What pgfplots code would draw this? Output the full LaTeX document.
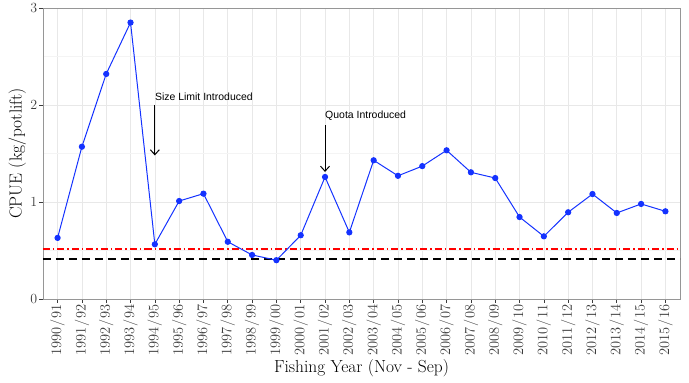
\documentclass[border=0pt]{standalone}
\usepackage{fontspec}
\newfontfamily\annfont{Liberation Sans}
\usepackage{pgfplots}
\pgfplotsset{compat=1.18}
\usetikzlibrary{arrows.meta}
\definecolor{lineblue}{RGB}{20,50,255}
\definecolor{gridc}{RGB}{232,232,232}
\definecolor{gridm}{RGB}{244,244,244}
\definecolor{framec}{RGB}{150,150,150}
\definecolor{tickc}{RGB}{60,60,60}
\newcommand{\fy}[2]{#1\kern0.8bp/\kern0.8bp#2}
\begin{document}
\begin{tikzpicture}[x=1bp,y=1bp]
\begin{axis}[
  scale only axis, width=637bp, height=291bp, at={(0,0)}, anchor=south west,
  xmin=-0.6, xmax=25.6, ymin=0, ymax=3,
  xtick={0,...,25},
  xticklabels={\fy{1990}{91},\fy{1991}{92},\fy{1992}{93},\fy{1993}{94},\fy{1994}{95},\fy{1995}{96},\fy{1996}{97},\fy{1997}{98},\fy{1998}{99},\fy{1999}{00},\fy{2000}{01},\fy{2001}{02},\fy{2002}{03},\fy{2003}{04},\fy{2004}{05},\fy{2005}{06},\fy{2006}{07},\fy{2007}{08},\fy{2008}{09},\fy{2009}{10},\fy{2010}{11},\fy{2011}{12},\fy{2012}{13},\fy{2013}{14},\fy{2014}{15},\fy{2015}{16}},
  ytick={0,1,2,3}, minor ytick={0.5,1.5,2.5},
  grid=both,
  major grid style={gridc, line width=0.6pt},
  minor grid style={gridm, line width=0.4pt},
  axis line style={framec, line width=0.6pt},
  tick style={tickc, line width=0.6pt},
  tick align=outside, major tick length=3.5bp, minor tick length=0pt,
  xtick pos=bottom, ytick pos=left,
  /pgf/number format/assume math mode=true,
  xticklabel style={rotate=90, anchor=east, font=\fontsize{14.5}{14.5}\selectfont, inner sep=2bp, text=tickc},
  yticklabel style={font=\fontsize{14}{14}\selectfont, inner sep=2bp, text=tickc},
  xlabel={Fishing Year (Nov - Sep)}, ylabel={CPUE (kg/potlift)},
  label style={font=\fontsize{17.5}{17.5}\selectfont},
  xlabel style={yshift=2bp},
  ylabel style={yshift=-1bp},
  clip=false,
]
\addplot[red, solid, line width=1.2pt, dash pattern=on 7bp off 3bp on 1.5bp off 3bp] coordinates {(-0.6,0.515) (25.6,0.515)};
\addplot[black, solid, line width=1.3pt, dash pattern=on 8bp off 5bp] coordinates {(-0.6,0.412) (25.6,0.412)};
\addplot[color=lineblue, line width=1pt, mark=*, mark size=2.6bp, mark options={solid, fill=lineblue}] coordinates {
(0,0.63) (1,1.57) (2,2.32) (3,2.85) (4,0.564) (5,1.01) (6,1.086) (7,0.59) (8,0.454) (9,0.40)
(10,0.657) (11,1.258) (12,0.687) (13,1.43) (14,1.27) (15,1.37) (16,1.533) (17,1.306) (18,1.247)
(19,0.845) (20,0.646) (21,0.894) (22,1.082) (23,0.887) (24,0.98) (25,0.904)};
\node[anchor=west, inner sep=0pt, font=\annfont\fontsize{10.5}{10.5}\selectfont] at (axis cs:4,2.09) {Size Limit Introduced};
\draw[-{Straight Barb[length=5bp,width=9bp]}, line width=1pt] (axis cs:4,2.0) -- (axis cs:4,1.48);
\node[anchor=west, inner sep=0pt, font=\annfont\fontsize{10.5}{10.5}\selectfont] at (axis cs:11,1.89) {Quota Introduced};
\draw[-{Straight Barb[length=5bp,width=9bp]}, line width=1pt] (axis cs:11,1.79) -- (axis cs:11,1.31);
\end{axis}
\pgfresetboundingbox
\path (-43bp,-84bp) rectangle (646bp,299bp);
\end{tikzpicture}
\end{document}
